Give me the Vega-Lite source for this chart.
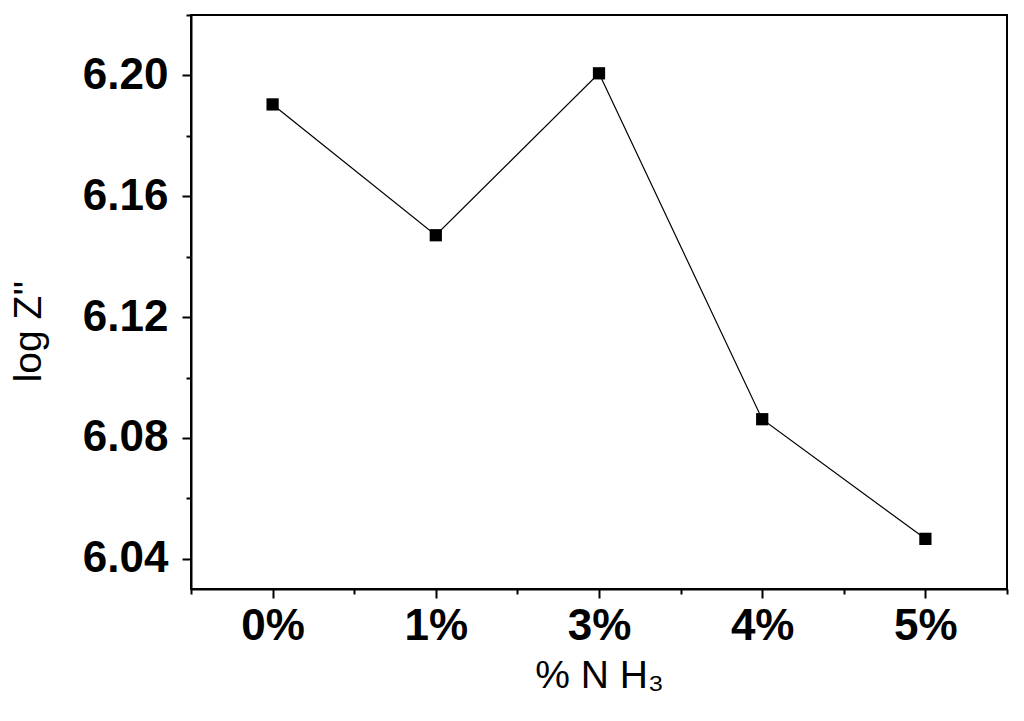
{
  "$schema": "https://vega.github.io/schema/vega-lite/v6.json",
  "autosize": {"type": "none"},
  "width": 816,
  "height": 574,
  "padding": {"left": 191, "top": 15, "right": 17, "bottom": 132},
  "background": "white",
  "config": {
    "view": {"stroke": "black", "strokeWidth": 2},
    "axis": {
      "domainColor": "black",
      "domainWidth": 2,
      "tickColor": "black",
      "tickWidth": 2,
      "grid": false,
      "labelFont": "Liberation Sans",
      "labelFontWeight": "bold",
      "labelFontSize": 44,
      "labelColor": "black",
      "titleFont": "Liberation Sans",
      "titleFontWeight": "normal",
      "titleFontSize": 39,
      "titleColor": "black"
    }
  },
  "data": {
    "values": [
      {"idx": 0, "label": "0%", "logZ": 6.1904},
      {"idx": 1, "label": "1%", "logZ": 6.1471},
      {"idx": 2, "label": "3%", "logZ": 6.2007},
      {"idx": 3, "label": "4%", "logZ": 6.0862},
      {"idx": 4, "label": "5%", "logZ": 6.0466}
    ]
  },
  "encoding": {
    "x": {
      "field": "idx",
      "type": "quantitative",
      "scale": {"domain": [-0.5, 4.5], "nice": false, "zero": false},
      "axis": {
        "title": "% N H₃",
        "values": [-0.5, 0, 0.5, 1, 1.5, 2, 2.5, 3, 3.5, 4, 4.5],
        "labelExpr": "datum.value % 1 == 0 ? ['0%','1%','3%','4%','5%'][datum.value] : ''",
        "tickSize": {"condition": {"test": "datum.value % 1 == 0", "value": 9}, "value": 5},
        "labelPadding": 6,
        "titlePadding": 8,
        "labelFlush": false,
        "labelOverlap": false
      }
    },
    "y": {
      "field": "logZ",
      "type": "quantitative",
      "scale": {"domain": [6.03, 6.22], "nice": false, "zero": false},
      "axis": {
        "title": "log Z''",
        "titleY": 316,
        "values": [6.04, 6.06, 6.08, 6.1, 6.12, 6.14, 6.16, 6.18, 6.2, 6.22],
        "labelExpr": "round(datum.value*100) % 4 == 0 ? format(datum.value, '.2f') : ''",
        "tickSize": {"condition": {"test": "round(datum.value*100) % 4 == 0", "value": 9}, "value": 5},
        "labelPadding": 14,
        "titlePadding": 34,
        "labelFlush": false,
        "labelOverlap": false
      }
    }
  },
  "layer": [
    {"mark": {"type": "line", "color": "black", "strokeWidth": 1.2}},
    {"mark": {"type": "square", "color": "black", "filled": true, "opacity": 1, "size": 150}}
  ]
}
